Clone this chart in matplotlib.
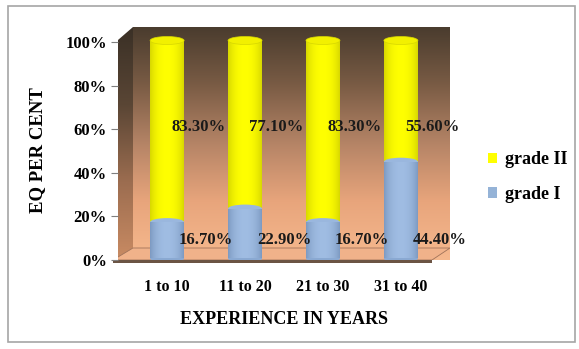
import numpy as np
import matplotlib.pyplot as plt
from matplotlib.patches import Ellipse, Polygon, Rectangle
from matplotlib.colors import LinearSegmentedColormap

plt.rcParams['font.family'] = ['Liberation Serif', 'DejaVu Serif']
plt.rcParams['font.weight'] = 'bold'

# data
categories = ['1 to 10', '11 to 20', '21 to 30', '31 to 40']
grade_1 = [16.7, 22.9, 16.7, 44.4]
grade_2 = [83.3, 77.1, 83.3, 55.6]
yticks = [0, 20, 40, 60, 80, 100]

W, H = 579, 349
fig = plt.figure(figsize=(W / 100, H / 100), dpi=100)

# outer gray frame
fig.patches.append(Rectangle((8 / W, 7 / H), 567 / W, 336 / H, transform=fig.transFigure,
                             fill=False, edgecolor='#a6a6a6', linewidth=1.2))

# axes placed in pixel terms: 0% at y=260, 100% at y=42
x0, x1 = 118, 450
y_top, y_bot = 27, 260
ax = fig.add_axes([x0 / W, (H - y_bot) / H, (x1 - x0) / W, (y_bot - y_top) / H])
ymax = (y_bot - y_top) / 218 * 100
xmin, xmax = -0.63, 3.63
ax.set_xlim(xmin, xmax)
ax.set_ylim(0, ymax)
for s in ax.spines.values():
    s.set_visible(False)

px = (xmax - xmin) / (x1 - x0)      # data units per pixel in x
py = ymax / (y_bot - y_top)         # data units per pixel in y

# back wall gradient (dark brown top -> peach bottom)
wall_cmap = LinearSegmentedColormap.from_list('wall', ['#f6b98e', '#e8a57c', '#b58466', '#7a5c45', '#4a3c2e'])
grad = np.linspace(0, 1, 256).reshape(-1, 1)
xw = xmin + 15 * px
ax.imshow(grad, extent=[xw, xmax, 0, ymax], origin='lower', cmap=wall_cmap,
          aspect='auto', zorder=0)

# left side wall
side_cmap = LinearSegmentedColormap.from_list('side', ['#c98b63', '#9c6d50', '#5a4635', '#3a3026'])
side = Polygon([(xmin, -0.5), (xw, 12 * py), (xw, ymax), (xmin, ymax - 13 * py)], closed=True,
               facecolor='none', edgecolor='none')
ax.add_patch(side)
im = ax.imshow(grad, extent=[xmin, xw, 0, ymax], origin='lower', cmap=side_cmap,
               aspect='auto', zorder=0.5)
im.set_clip_path(side)

# floor
floor = Polygon([(xmin - 5 * px, 0), (xw, 12 * py), (xmax, 12 * py), (xmax - 18 * px, 0)],
                closed=True, facecolor='#f0b28a', edgecolor='#a0735a', linewidth=0.6, zorder=1)
ax.add_patch(floor)
ax.add_patch(Polygon([(xmin - 5 * px, 0), (xmax - 18 * px, 0), (xmax - 18 * px, -3 * py),
                      (xmin - 5 * px, -3 * py)], closed=True, facecolor='#6b5444',
                     edgecolor='none', zorder=1, clip_on=False))

# cylinders
x = np.arange(len(categories))
bw = 34 * px
eh = 8 * py
shade = np.sin(np.linspace(0.15, np.pi - 0.15, 64)) ** 0.5
shade = shade.reshape(1, -1)
yellow_cmap = LinearSegmentedColormap.from_list('yel', ['#d2d200', '#ffff00'])
blue_cmap = LinearSegmentedColormap.from_list('blu', ['#7895bd', '#a0bde3'])
base = 1.5 * py
for i in range(len(categories)):
    b1 = ax.bar(x[i], grade_1[i], bw, bottom=base, color='none', zorder=2)[0]
    g = ax.imshow(shade, extent=[x[i] - bw / 2, x[i] + bw / 2, base, base + grade_1[i]],
                  cmap=blue_cmap, vmin=0.3, vmax=1, aspect='auto', zorder=2)
    g.set_clip_path(b1)
    ax.add_patch(Ellipse((x[i], base), bw, eh, facecolor='#8aa9d2', edgecolor='none', zorder=1.9))
    top1 = base + grade_1[i]
    b2 = ax.bar(x[i], grade_2[i], bw, bottom=top1, color='none', zorder=2)[0]
    g = ax.imshow(shade, extent=[x[i] - bw / 2, x[i] + bw / 2, top1, top1 + grade_2[i]],
                  cmap=yellow_cmap, vmin=0.3, vmax=1, aspect='auto', zorder=2)
    g.set_clip_path(b2)
    # blue bottom curve showing through under the yellow segment
    e = Ellipse((x[i], top1), bw, eh, facecolor='#9ab7de', edgecolor='none', zorder=2.1)
    ax.add_patch(e)
    e.set_clip_path(b2)
    ax.add_patch(Ellipse((x[i], top1 + grade_2[i]), bw, eh, facecolor='#f2f000',
                         edgecolor='#d6d600', linewidth=0.5, zorder=2.2))
    ax.text(x[i] + 0.4, 61, f'{grade_2[i]:.2f}%', ha='center', va='center',
            fontsize=12, color='#1a1a1a', zorder=3)
    ax.text(x[i] + 0.5, 9, f'{grade_1[i]:.2f}%', ha='center', va='center',
            fontsize=12, color='#1a1a1a', zorder=3)

# axes ticks
ax.set_yticks(yticks)
ax.set_yticklabels([f'{t}%' for t in yticks], fontsize=12)
ax.tick_params(axis='y', length=5, width=0.8, color='#7f7f7f', pad=3)
ax.set_xticks(x)
ax.set_xticklabels(categories, fontsize=11.5)
ax.tick_params(axis='x', length=0, pad=14)
ax.set_xlabel('EXPERIENCE IN YEARS', fontsize=13, fontweight='bold', labelpad=11)
fig.text(38 / W, 1 - 150 / H, 'EQ PER CENT', rotation=90, ha='center', va='center',
         fontsize=13.5, fontweight='bold')

# legend
h2 = Rectangle((0, 0), 1, 1, facecolor='#ffff00')
h1 = Rectangle((0, 0), 1, 1, facecolor='#95b3d7')
fig.legend([h2, h1], ['grade II', 'grade I'], loc='center left',
           bbox_to_anchor=(472 / W, 1 - 177 / H), frameon=False, fontsize=13,
           handlelength=0.5, handleheight=0.55, handletextpad=0.45, labelspacing=0.95)

fig.savefig('out.png', dpi=100)
